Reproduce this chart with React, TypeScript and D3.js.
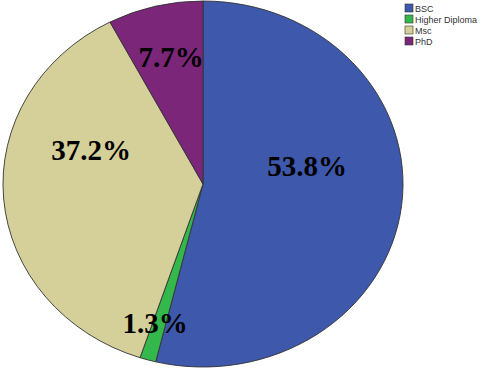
import * as d3 from 'd3';
import React, { useEffect, useRef } from 'react';

// Degree categories, clockwise from 12 o'clock
const categories = ['BSC', 'Higher Diploma', 'Msc', 'PhD'];
const percentages = [53.8, 1.3, 37.2, 7.7];
const sliceColors = ['#3e58ab', '#34b84b', '#d5cf9a', '#7b2679'];

function App() {
    const chartRef = useRef<SVGSVGElement>(null);

    useEffect(() => {
        const svg = d3.select(chartRef.current);
        svg.selectAll('*').remove();

        const cx = 203;
        const cy = 184;
        const rx = 200;
        const ry = 183;

        const data = categories.map((c, i) => ({ name: c, value: percentages[i], color: sliceColors[i] }));
        const pie = d3.pie<any>().value(d => d.value).sort(null);
        const arcs = pie(data);

        // draw a circle of radius ry, then stretch it into the ellipse
        const arc = d3.arc<any>().innerRadius(0).outerRadius(ry);

        const g = svg.append('g')
            .attr('transform', `translate(${cx},${cy}) scale(${rx / ry},1)`);

        g.selectAll('path')
            .data(arcs)
            .enter().append('path')
            .attr('d', arc)
            .attr('fill', d => d.data.color)
            .attr('stroke', '#333')
            .attr('stroke-width', 0.9)
            .attr('vector-effect', 'non-scaling-stroke')
            .attr('stroke-linejoin', 'round');

        // label anchor offsets from centre, placed by hand like the original
        const labelPos = [
            [104, -8],
            [-48, 149],
            [-112, -24],
            [-32, -117],
        ];
        const labels = svg.append('g').attr('transform', `translate(${cx},${cy})`);
        arcs.forEach((a, i) => {
            labels.append('text')
                .attr('x', labelPos[i][0])
                .attr('y', labelPos[i][1])
                .attr('text-anchor', 'middle')
                .attr('font-family', '"Liberation Serif", "Times New Roman", serif')
                .attr('font-weight', 'bold')
                .attr('font-size', 29)
                .attr('fill', '#000')
                .text(`${a.data.value.toFixed(1)}%`);
        });

        // Legend
        const legend = svg.append('g').attr('transform', 'translate(405,4)');
        const rows = legend.selectAll('g')
            .data(data)
            .enter().append('g')
            .attr('transform', (d, i) => `translate(0,${i * 11})`);
        rows.append('rect')
            .attr('width', 8)
            .attr('height', 8)
            .attr('fill', d => d.color)
            .attr('stroke', '#333')
            .attr('stroke-width', 0.6);
        rows.append('text')
            .attr('x', 10)
            .attr('y', 7.5)
            .attr('font-family', '"Liberation Sans", Arial, sans-serif')
            .attr('font-size', 9)
            .attr('fill', '#333')
            .text(d => d.name);
    }, []);

    return (
        <svg
            ref={chartRef}
            width={480}
            height={370}
            style={{ position: 'absolute', left: 0, top: 0, background: '#fff' }}
        />
    );
}

export default App;
